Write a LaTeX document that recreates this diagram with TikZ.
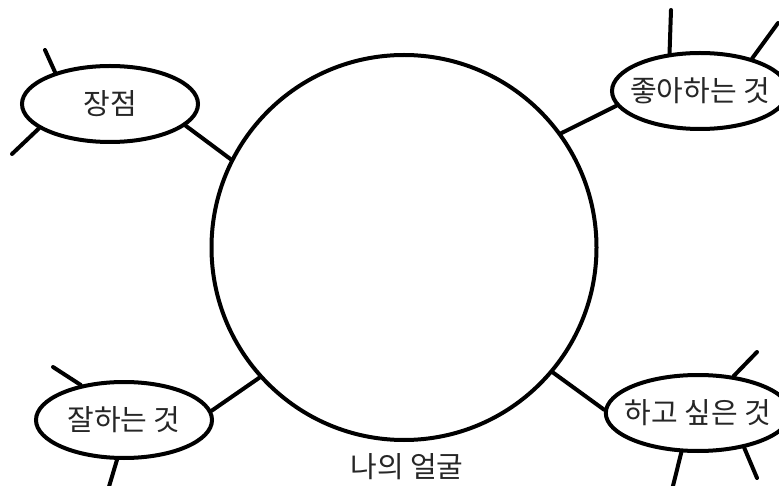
\documentclass[tikz,border=0pt]{standalone}
\usepackage{fontspec}
\setmainfont{Noto Sans CJK KR}
\usetikzlibrary{shapes.geometric}
\begin{document}
\begin{tikzpicture}[x=1pt,y=-1pt,
  stroke/.style={line width=4pt,draw=black},
  bubble/.style={ellipse,stroke,fill=white,minimum width=176pt,minimum height=76pt,
    inner xsep=-8pt,inner ysep=0pt,
    font=\fontsize{29}{33}\selectfont,text=black!85},
  facecircle/.style={circle,stroke,minimum size=385pt,inner sep=0pt},
  spoke/.style={stroke,line cap=round}]
\useasboundingbox (0,0) rectangle (779,486);
\fill[white] (0,0) rectangle (779,486);
\node[facecircle] (face) at (404,247.5) {};
\node[bubble] (jang) at (110,104) {장점};
\node[bubble] (like) at (700,91) {좋아하는 것};
\node[bubble] (good) at (124,420) {잘하는 것};
\node[bubble] (want) at (698,413) {하고 싶은 것};
\node[font=\fontsize{29}{33}\selectfont,text=black!85] (title) at (407,467) {나의 얼굴};
% free ends
\coordinate (j1) at (45,50);
\coordinate (j2) at (12,154);
\coordinate (l1) at (671,10);
\coordinate (l2) at (778,23);
\coordinate (g1) at (53,367);
\coordinate (g2) at (108,490);
\coordinate (w1) at (757,352);
\coordinate (w2) at (672,490);
\coordinate (w3) at (757,478);
% connectors to face
\draw[spoke] (face.153) -- (jang.-16);
\draw[spoke] (face.36) -- (like.190);
\draw[spoke] (face.222) -- (good.6);
\draw[spoke] (face.-40) -- (want.178);
% spikes
\draw[spoke] (jang.150) -- (j1);
\draw[spoke] (jang.199) -- (j2);
\draw[spoke] (like.129) -- (l1);
\draw[spoke] (like.32) -- (l2);
\draw[spoke] (good.141) -- (g1);
\draw[spoke] (good.260) -- (g2);
\draw[spoke] (want.46) -- (w1);
\draw[spoke] (want.247) -- (w2);
\draw[spoke] (want.-37) -- (w3);
\end{tikzpicture}
\end{document}
